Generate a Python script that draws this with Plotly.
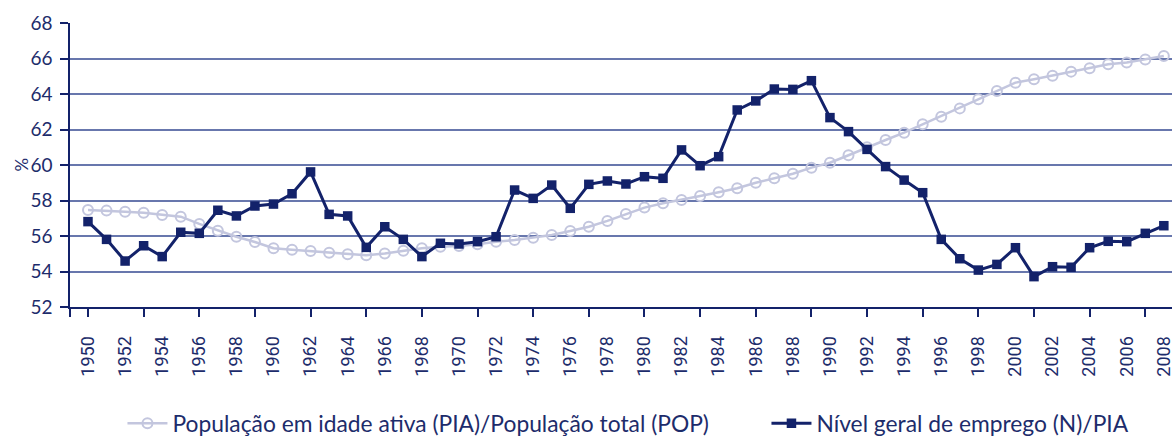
import plotly.graph_objects as go

years = list(range(1950, 2009))

pia_pop = [57.46, 57.43, 57.37, 57.31, 57.18, 57.09, 56.68, 56.30, 55.96, 55.66,
           55.31, 55.23, 55.15, 55.06, 54.97, 54.91, 55.02, 55.17, 55.31, 55.40,
           55.44, 55.53, 55.68, 55.77, 55.90, 56.06, 56.28, 56.52, 56.85, 57.24,
           57.60, 57.84, 58.03, 58.25, 58.46, 58.69, 59.00, 59.25, 59.51, 59.85,
           60.13, 60.55, 61.00, 61.41, 61.82, 62.29, 62.72, 63.19, 63.70, 64.17,
           64.64, 64.83, 65.03, 65.26, 65.45, 65.67, 65.78, 65.95, 66.14]

n_pia = [56.81, 55.81, 54.59, 55.45, 54.84, 56.21, 56.15, 57.45, 57.13, 57.69,
         57.80, 58.38, 59.61, 57.22, 57.13, 55.36, 56.52, 55.81, 54.84, 55.59,
         55.55, 55.68, 55.96, 58.59, 58.12, 58.87, 57.56, 58.91, 59.10, 58.93,
         59.34, 59.25, 60.85, 59.96, 60.47, 63.10, 63.61, 64.28, 64.26, 64.75,
         62.67, 61.88, 60.88, 59.91, 59.15, 58.44, 55.81, 54.72, 54.08, 54.40,
         55.34, 53.71, 54.27, 54.24, 55.34, 55.70, 55.68, 56.15, 56.58]

label_years = list(range(1950, 2009, 2))
tick_years = list(range(1950, 2009, 3))
y_ticks = list(range(52, 69, 2))

name_pia = "População em idade ativa (PIA)/População total (POP)"
name_n = "Nível geral de emprego (N)/PIA"

NAVY = "#13226a"
TEXT = "#1d2c6b"
LAV = "#c3c6de"

fig = go.Figure()
fig.add_trace(go.Scatter(
    x=years, y=pia_pop, name=name_pia, mode="lines+markers", legend="legend",
    line=dict(color=LAV, width=2.5),
    marker=dict(symbol="circle-open", size=10, color=LAV, line=dict(width=2, color=LAV)),
))
fig.add_trace(go.Scatter(
    x=years, y=n_pia, name=name_n, mode="lines+markers", legend="legend2",
    line=dict(color=NAVY, width=3),
    marker=dict(symbol="square", size=9.5, color=NAVY),
))

leg_common = dict(orientation="h", xanchor="left", y=-0.41, yanchor="middle",
                  font=dict(size=22.8, color=TEXT), itemwidth=40,
                  bgcolor="rgba(0,0,0,0)")

fig.update_layout(
    width=1172, height=436,
    margin=dict(l=70, r=0, t=23, b=129, autoexpand=False),
    paper_bgcolor="white", plot_bgcolor="white",
    font=dict(family="Lato, Open Sans, sans-serif", color=TEXT, size=18),
    showlegend=True,
    legend=dict(x=0.0476, **leg_common),
    legend2=dict(x=0.632, **leg_common),
    xaxis=dict(
        range=[1949.03, 2008.44], automargin=False,
        tickmode="array", tickvals=label_years, ticktext=[str(y) for y in label_years],
        tickangle=-90, ticks="", ticklabelstandoff=20, ticklabeloverflow="allow",
        tickfont=dict(family="Roboto, Liberation Sans, sans-serif", size=18, color=TEXT),
        showgrid=False, zeroline=False,
        showline=True, linecolor=NAVY, linewidth=2,
        minor=dict(tickmode="array", tickvals=[1949.03] + tick_years, ticks="outside",
                   ticklen=8, tickwidth=1.5, tickcolor=NAVY, showgrid=False),
    ),
    yaxis=dict(
        range=[52, 68], tickmode="array", tickvals=y_ticks, automargin=False,
        ticks="outside", ticklen=8, tickwidth=1.5, tickcolor=NAVY,
        tickfont=dict(size=19, color=TEXT), ticklabelstandoff=4,
        showgrid=True, gridcolor="#6877ad", gridwidth=1.5,
        zeroline=False, showline=True, linecolor=NAVY, linewidth=1.5,
    ),
    annotations=[dict(text="%", xref="paper", yref="paper", x=-0.0449, y=0.5,
                      xanchor="center", yanchor="middle", textangle=-90, showarrow=False,
                      font=dict(size=17, color=TEXT))],
)

fig.write_html(
    "out.html",
    config={"displayModeBar": False},
    post_script="document.body.style.margin='0';document.body.style.overflow='hidden';",
)
